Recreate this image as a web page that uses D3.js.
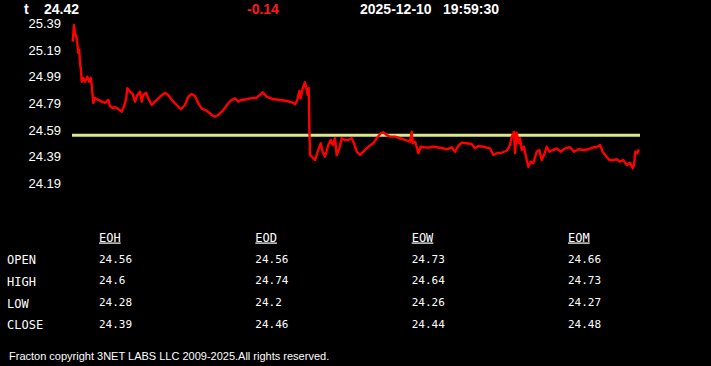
<!DOCTYPE html>
<html>
<head>
<meta charset="utf-8">
<script src="https://cdn.jsdelivr.net/npm/d3@7/dist/d3.min.js"></script>
<style>
  html, body { margin: 0; padding: 0; background: #000; }
  svg { display: block; }
</style>
</head>
<body>
<script>
// ---------- DATA ----------
const ticker = "t";
const lastPrice = "24.42";
const change = "-0.14";
const dateText = "2025-12-10";
const timeText = "19:59:30";

const yTicks = [25.39, 25.19, 24.99, 24.79, 24.59, 24.39, 24.19];
const refLevel = 24.55; // yellow reference line

const times = [0.7,2,3,4.7,5.3,6.3,7.3,8,9,9.7,11.3,13,15.3,17.3,18.7,19.7,20.7,21.3,23,26.3,29.7,33,36.3,38,40.7,43,46.3,49.7,51.3,54,55.3,58,60.7,63,65.3,68,69.7,71.3,74,76.3,79.7,83,88,93,96.3,99.7,104.7,108.7,113,116.3,119.7,123,126.3,129.7,134.7,139.7,143,146.3,151.3,156.3,159.7,163,166.3,169.7,174.7,
178,184.7,190.7,194.7,201.3,208,214.7,219.7,223,225.3,227.3,228.7,230.7,233,234.7,235.7,236.7,237.3,238,239.7,243,246.3,248.7,250.7,253,256.3,258.7,260.7,263,264.7,267.3,269.7,273,276.3,279.7,282,284.7,288,291.3,296.3,301.3,304.7,308.7,311.3,314.7,318,323,328,333,338,339.7,340.7,343,344.7,346.3,348.7,354.7,361.3,
368,374.7,379.7,383,386.3,389.7,394.7,399.7,403,406.3,411.3,418,421.3,424.7,429.7,434.7,438,439.7,442,443,444.7,446.7,448,449.7,452,454,456.3,458.7,461.3,464.7,467.3,469.7,472,474.7,477.3,481.3,484.7,488.7,493,498,502,506.3,511.3,516.3,521.3,524.7,528,530.7,534,537.3,541.3,544.7,548,551.3,554.7,558,560.7,562,563.3,565.3,566.7];

const prices = [25.254,25.379,25.319,25.282,25.244,25.169,25.192,25.094,25.041,24.953,24.981,24.953,24.991,24.953,24.981,24.928,24.840,24.793,24.831,24.816,24.803,24.793,24.816,24.770,24.755,24.763,24.748,24.728,24.755,24.816,24.904,24.878,24.861,24.803,24.853,24.878,24.803,24.853,24.870,24.828,24.778,24.803,24.840,24.870,24.853,24.816,24.778,24.746,24.778,24.840,24.861,24.846,24.791,24.753,24.735,24.703,24.690,24.703,24.740,24.791,24.816,24.828,24.803,24.816,24.821,
24.828,24.833,24.873,24.840,24.823,24.816,24.808,24.798,24.783,24.816,24.883,24.828,24.904,24.949,24.891,24.853,24.904,24.628,24.402,24.389,24.364,24.440,24.490,24.427,24.389,24.477,24.515,24.477,24.528,24.402,24.452,24.528,24.515,24.515,24.528,24.490,24.427,24.402,24.427,24.464,24.490,24.528,24.565,24.573,24.552,24.540,24.540,24.528,24.515,24.502,24.577,24.490,24.502,24.464,24.415,24.464,24.457,24.464,
24.457,24.445,24.460,24.427,24.470,24.495,24.490,24.485,24.452,24.470,24.464,24.452,24.402,24.415,24.419,24.434,24.477,24.540,24.577,24.415,24.570,24.490,24.528,24.440,24.464,24.389,24.314,24.352,24.340,24.427,24.440,24.364,24.402,24.464,24.427,24.440,24.452,24.427,24.452,24.460,24.427,24.445,24.440,24.445,24.460,24.460,24.477,24.427,24.395,24.364,24.364,24.370,24.352,24.364,24.327,24.344,24.302,24.327,24.427,24.415,24.445];

const tableCols = ["EOH", "EOD", "EOW", "EOM"];
const rowLabels = ["OPEN", "HIGH", "LOW", "CLOSE"];
const eohVals = [24.56, 24.6, 24.28, 24.39];
const eodVals = [24.56, 24.74, 24.2, 24.46];
const eowVals = [24.73, 24.64, 24.26, 24.44];
const eomVals = [24.66, 24.73, 24.27, 24.48];

const footerText = "Fracton copyright 3NET LABS LLC 2009-2025.All rights reserved.";

// ---------- DRAW ----------
const W = 711, H = 366;
const svg = d3.select("body").append("svg").attr("width", W).attr("height", H)
  .style("background", "#000");

const sans = "'Liberation Sans', Arial, sans-serif";
const mono = "'DejaVu Sans Mono', 'Liberation Mono', monospace";

// header
const hdr = svg.append("g").attr("font-family", sans).attr("font-weight", "bold").attr("font-size", 14);
hdr.append("text").attr("x", 24).attr("y", 13.5).attr("fill", "#fff").text(ticker);
hdr.append("text").attr("x", 44).attr("y", 13.5).attr("fill", "#fff").text(lastPrice);
hdr.append("text").attr("x", 247).attr("y", 13.5).attr("fill", "#ff1a1a").text(change);
hdr.append("text").attr("x", 360).attr("y", 13.5).attr("fill", "#fff").text(dateText);
hdr.append("text").attr("x", 443).attr("y", 13.5).attr("fill", "#fff").text(timeText);

// scales
const x = d3.scaleLinear().domain([0, 568]).range([72, 640]);
const y = d3.scaleLinear().domain([24.19, 25.39]).range([183.2, 23.6]);

// y axis labels
const yAxis = d3.axisLeft(y).tickValues(yTicks).tickSize(0).tickPadding(0).tickFormat(d3.format(".2f"));
const ag = svg.append("g").attr("transform", "translate(61,0)").call(yAxis);
ag.select(".domain").remove();
ag.selectAll("text").attr("fill", "#fff").attr("font-family", sans).attr("font-size", 13);

// reference line
svg.append("line")
  .attr("x1", x(0)).attr("x2", x(568))
  .attr("y1", y(refLevel)).attr("y2", y(refLevel))
  .attr("stroke", "#dce68c").attr("stroke-width", 3);

// price line
const pts = times.map((t, i) => [t, prices[i]]);
svg.append("path")
  .datum(pts)
  .attr("fill", "none")
  .attr("stroke", "#ff0000")
  .attr("stroke-width", 2.4)
  .attr("stroke-linejoin", "round")
  .attr("d", d3.line().x(d => x(d[0])).y(d => y(d[1])));

// table
const colX = d3.scalePoint().domain(tableCols).range([99, 568]);
const rowY = d3.scalePoint().domain(rowLabels).range([262.5, 327.8]);
const colVals = { EOH: eohVals, EOD: eodVals, EOW: eowVals, EOM: eomVals };

const tg = svg.append("g").attr("font-family", mono).attr("fill", "#fff");
tg.selectAll("text.rl").data(rowLabels).join("text").attr("class", "rl")
  .attr("x", 7).attr("y", d => rowY(d) + 1.5).attr("font-size", 12).text(d => d);
tg.selectAll("text.ch").data(tableCols).join("text").attr("class", "ch")
  .attr("x", d => colX(d)).attr("y", 241.5).attr("font-size", 12)
  .style("text-decoration", "underline").text(d => d);
tableCols.forEach(c => {
  tg.selectAll("text.v" + c).data(colVals[c]).join("text").attr("class", "v" + c)
    .attr("x", colX(c)).attr("y", (d, i) => rowY(rowLabels[i])).attr("font-size", 11)
    .text(d => String(d));
});

// footer
svg.append("text").attr("x", 9).attr("y", 359.5).attr("fill", "#fff")
  .attr("font-family", sans).attr("font-size", 11).text(footerText);
</script>
</body>
</html>
